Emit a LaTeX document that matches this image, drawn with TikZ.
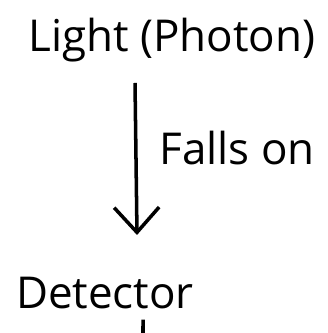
\documentclass[tikz,border=0pt]{standalone}
\usepackage{fontspec}
\setmainfont{Open Sans}
\usetikzlibrary{positioning,arrows.meta}

\begin{document}
\begin{tikzpicture}[
    label/.style={inner sep=0pt, font=\fontsize{12.5}{14}\selectfont},
    arr/.style={-{Straight Barb[length=2.5mm, width=4.5mm]}, line width=1pt},
    stub/.style={line width=1pt}
]
\useasboundingbox (0,0) rectangle (3.27,3.33);

\node[label] (light) at (1.72,2.93) {Light (Photon)};
\node[label] (detector) at (1.05,0.40) {Detector};
\coordinate (src) at (1.35,2.50);
\coordinate (dst) at (1.37,0.98);
\coordinate (down) at (1.43,0);

\draw[arr] (src) -- node[label, right=2.2mm, pos=0.43] (falls) {Falls on} (dst);
\draw[stub] ([xshift=0.38cm, yshift=-1mm]detector.south) -- (down);

\end{tikzpicture}
\end{document}
